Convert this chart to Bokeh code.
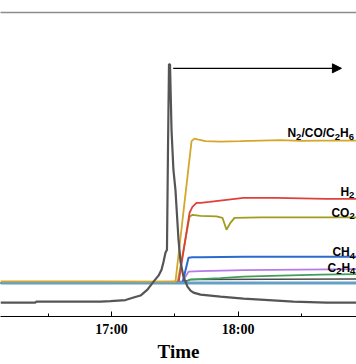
from bokeh.plotting import figure
from bokeh.models import LinearAxis, FixedTicker, Range1d, Arrow, NormalHead
from bokeh.core.properties import value
from bokeh.embed import file_html
from bokeh.resources import INLINE

# time in decimal hours, signal in arbitrary units (0-100)
gray_t = [16.124, 16.400, 16.408, 16.913, 16.992, 17.111, 17.174, 17.229, 17.284, 17.332,
          17.371, 17.395, 17.411, 17.426, 17.438, 17.446, 17.454, 17.462, 17.474, 17.489,
          17.505, 17.529, 17.545, 17.568, 17.600, 17.624, 17.647, 17.703, 17.860, 18.042,
          18.176, 18.436, 18.697, 18.934]
gray_v = [4.59, 4.59, 4.92, 4.92, 5.08, 5.41, 6.23, 6.89, 8.85, 11.48,
          13.44, 15.41, 18.03, 20.98, 21.97, 54.75, 82.95, 82.95, 61.31, 48.20,
          41.64, 25.25, 18.03, 13.11, 9.84, 8.52, 7.87, 7.21, 6.56, 5.90,
          5.57, 4.92, 4.59, 4.59]

base_t = [16.124, 16.5, 17.0, 17.5, 18.0, 18.5, 18.934]
base_v = [11.0, 11.0, 11.0, 11.0, 11.0, 11.0, 11.0]

n2_t = [16.124, 16.913, 17.505, 17.632, 17.655, 17.687, 17.742, 17.860, 18.018, 18.176, 18.334, 18.492, 18.650, 18.808, 18.934]
n2_v = [11.57, 11.57, 11.48, 57.70, 58.52, 58.20, 57.70, 57.54, 57.70, 57.87, 58.03, 57.77, 57.87, 57.87, 57.87]

h2_t = [16.124, 17.529, 17.616, 17.639, 17.671, 17.703, 17.774, 17.908, 18.042, 18.300, 18.697, 18.934]
h2_v = [10.98, 10.98, 34.10, 36.07, 37.38, 37.38, 37.70, 38.36, 39.02, 39.02, 38.70, 38.70]

co2_t = [16.124, 17.521, 17.616, 17.639, 17.703, 17.829, 17.876, 17.908, 17.939, 17.971, 18.176, 18.492, 18.934]
co2_v = [10.98, 10.98, 32.79, 33.44, 33.11, 32.95, 32.46, 28.52, 30.82, 32.46, 32.62, 32.62, 32.62]

ch4_t = [16.124, 17.561, 17.608, 17.639, 17.703, 18.042, 18.492, 18.934]
ch4_v = [10.98, 11.15, 19.34, 19.51, 19.51, 19.67, 19.67, 19.67]

c2h4_t = [16.124, 17.561, 17.608, 17.703, 18.042, 18.492, 18.934]
c2h4_v = [10.98, 11.48, 14.75, 14.92, 15.25, 15.41, 15.57]

green_t = [16.124, 17.584, 17.616, 17.860, 18.042, 18.334, 18.650, 18.934]
green_v = [10.98, 11.15, 12.13, 12.62, 13.11, 13.44, 13.77, 13.93]

dark_t = [16.124, 17.568, 17.624, 18.934]
dark_v = [10.98, 11.48, 12.13, 12.30]

tick_hours = [16, 17, 18, 19]
tick_labels = ["16:00", "17:00", "18:00", "19:00"]
minor_hours = [16.5, 17.5, 18.5]

p = figure(width=356, height=364, output_backend="svg", toolbar_location=None,
           x_range=Range1d(16.124, 18.934), y_range=Range1d(0, 100),
           y_axis_location=None, min_border_left=0, min_border_right=0,
           min_border_top=12, min_border_bottom=47)
p.outline_line_color = None
p.xgrid.visible = False
p.ygrid.visible = False
p.background_fill_color = "white"
p.border_fill_color = "white"

ax = p.below[0]
ax.ticker = FixedTicker(ticks=tick_hours, minor_ticks=minor_hours)
ax.major_label_overrides = {h: l for h, l in zip(tick_hours, tick_labels)}
ax.axis_line_color = "black"
ax.axis_line_width = 1
ax.major_tick_in = 5
ax.major_tick_out = 0
ax.minor_tick_in = 3
ax.minor_tick_out = 0
ax.major_tick_line_color = "black"
ax.minor_tick_line_color = "black"
ax.major_label_text_font = "Liberation Serif"
ax.major_label_text_font_style = "bold"
ax.major_label_text_font_size = "14px"
ax.major_label_text_color = "black"
ax.major_label_standoff = 5
ax.axis_label = "Time"
ax.axis_label_text_font = "Liberation Serif"
ax.axis_label_text_font_style = "bold"
ax.axis_label_text_font_size = "19px"
ax.axis_label_text_color = "black"
ax.axis_label_standoff = 1

top = LinearAxis(ticker=FixedTicker(ticks=[]), major_tick_line_color=None,
                 minor_tick_line_color=None, major_label_text_font_size="0px",
                 axis_line_color="#8c8c8c", axis_line_width=1.5)
p.add_layout(top, "above")

p.line(dark_t, dark_v, line_color="#4f4a4a", line_width=1.5)
p.line(green_t, green_v, line_color="#3e9e5a", line_width=1.8)
p.line(c2h4_t, c2h4_v, line_color="#b57be8", line_width=1.8)
p.line(ch4_t, ch4_v, line_color="#2a6acd", line_width=2)
p.line(co2_t, co2_v, line_color="#a09c20", line_width=1.8)
p.line(h2_t, h2_v, line_color="#e0403a", line_width=1.8)
p.line(base_t, base_v, line_color="#62a0c8", line_width=3)
p.line(n2_t, n2_v, line_color="#d4a72c", line_width=1.8)
p.line(gray_t, gray_v, line_color="#555555", line_width=2.2)

p.add_layout(Arrow(x_start=17.487, y_start=81.64, x_end=18.815, y_end=81.64,
                   line_color="black", line_width=1.2,
                   end=NormalHead(size=9, fill_color="black", line_color="black")))

WID = {'N': .722, 'C': .722, 'O': .778, 'H': .722, '/': .278, '2': .556, '4': .556, '6': .556}


def sub_label(x, y, parts, size=12, sub_size=9.5, drop=1.15):
    off = 0.0
    for s, sub in parts:
        fs = sub_size if sub else size
        p.text(x=[x], y=[y - (drop if sub else 0)], text=[s], x_offset=off,
               text_font=value("Liberation Sans"), text_font_style="bold",
               text_font_size=f"{fs}px", text_baseline="alphabetic",
               text_align="left", text_color="black")
        off += sum(WID[c] for c in s) * fs


sub_label(18.389, 60.33, [("N", 0), ("2", 1), ("/CO/C", 0), ("2", 1), ("H", 0), ("6", 1)])
sub_label(18.807, 40.98, [("H", 0), ("2", 1)])
sub_label(18.736, 34.10, [("CO", 0), ("2", 1)])
sub_label(18.744, 21.15, [("CH", 0), ("4", 1)])
sub_label(18.705, 16.07, [("C", 0), ("2", 1), ("H", 0), ("4", 1)])

open("out.html", "w").write(file_html(p, INLINE))
